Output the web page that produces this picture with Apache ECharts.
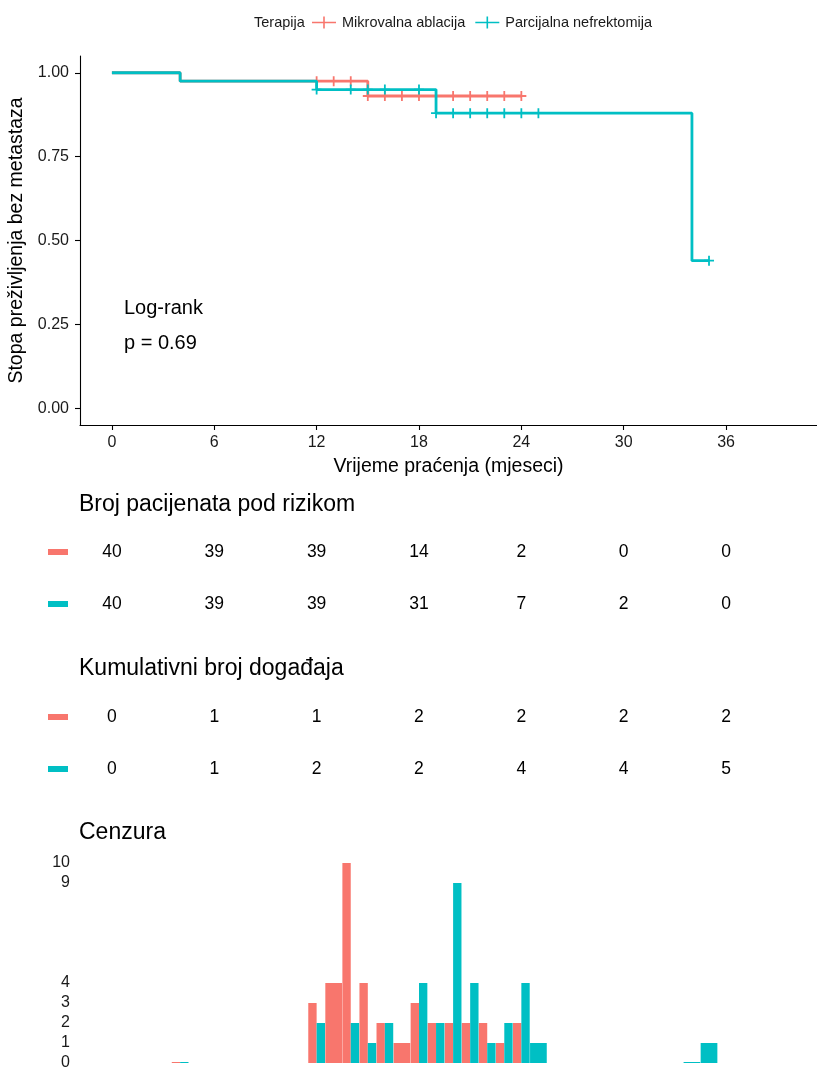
<!DOCTYPE html>
<html><head><meta charset="utf-8">
<script src="https://cdn.jsdelivr.net/npm/echarts@6/dist/echarts.min.js"></script>
<style>html,body{margin:0;padding:0;background:#fff}#c{width:817px;height:1070px}</style>
</head><body><div id="c"></div>
<script>
// ---- data ----
const groups = ['Mikrovalna ablacija', 'Parcijalna nefrektomija'];
const colors = ['#F8766D', '#00BFC4'];
// Kaplan-Meier step curves
const redSurvTimes = [0, 4, 15, 24];
const redSurv = [1, 0.975, 0.9307, 0.9307];
const tealSurvTimes = [0, 4, 12, 19, 34, 35];
const tealSurv = [1, 0.975, 0.95, 0.8796, 0.4398, 0.4398];
// censoring counts per time
const redCensTimes = [4, 12, 13, 14, 15, 16, 17, 18, 19, 20, 21, 22, 23, 24];
const redCensCounts = [0, 3, 4, 10, 4, 2, 1, 3, 2, 2, 2, 2, 1, 2];
const tealCensTimes = [4, 12, 14, 15, 16, 18, 19, 20, 21, 22, 23, 24, 25, 34, 35];
const tealCensCounts = [0, 2, 2, 1, 2, 4, 2, 9, 4, 1, 2, 4, 1, 0, 1];
// risk table
const tableTimes = [0, 6, 12, 18, 24, 30, 36];
const redAtRisk = [40, 39, 39, 14, 2, 0, 0];
const tealAtRisk = [40, 39, 39, 31, 7, 2, 0];
const redCumEvents = [0, 1, 1, 2, 2, 2, 2];
const tealCumEvents = [0, 1, 2, 2, 4, 4, 5];
// tick labels
const xTicks = [0, 6, 12, 18, 24, 30, 36];
const yTicks = [0, 0.25, 0.5, 0.75, 1];
const censTicks = [0, 1, 2, 3, 4, 9, 10];

// ---- helpers ----
const FONT = "'Liberation Sans', Arial, sans-serif";
const XMIN = -1.87, XMAX = 41.33;
function survAt(times, surv, t) {
  let v = surv[0];
  for (let i = 0; i < times.length; i++) if (times[i] <= t) v = surv[i];
  return v;
}
function censorMarks(ct, cc, st, sv) {
  const out = [];
  ct.forEach((t, i) => { if (cc[i] > 0) out.push([t, survAt(st, sv, t)]); });
  return out;
}
const plus = 'path://M0,4.1 L10,4.1 L10,5.9 L0,5.9 Z M4.1,0 L5.9,0 L5.9,10 L4.1,10 Z';
const legendIcon = 'path://M0,5.2 L24,5.2 L24,6.8 L0,6.8 Z M11.2,0 L12.8,0 L12.8,12 L11.2,12 Z';

const censData = [];
redCensTimes.forEach((t, i) => censData.push([t, redCensCounts[i], 0, tealCensTimes.indexOf(t) >= 0 ? 1 : 0]));
tealCensTimes.forEach((t, i) => censData.push([t, tealCensCounts[i], 1, redCensTimes.indexOf(t) >= 0 ? 1 : 0]));

function tableData(vals, row) { return tableTimes.map((t, i) => [t, row, vals[i]]); }

function xAxisCommon(gi, show) {
  return {
    gridIndex: gi, type: 'value', min: XMIN, max: XMAX,
    axisLine: { show: show, onZero: false, lineStyle: { color: '#000', width: 1.1 } },
    axisTick: { show: show, length: 5, customValues: xTicks, lineStyle: { color: '#000', width: 1.1 } },
    axisLabel: { show: show, customValues: xTicks, color: '#1a1a1a', fontSize: 16, fontFamily: FONT, margin: 10 },
    splitLine: { show: false }
  };
}
const tableYAxis = (gi) => ({
  gridIndex: gi, type: 'category', data: groups, inverse: true,
  axisLine: { show: false }, axisTick: { show: false },
  axisLabel: {
    margin: 12,
    formatter: (v, i) => i === 0 ? '{a|}' : '{b|}',
    rich: {
      a: { backgroundColor: colors[0], width: 20, height: 6 },
      b: { backgroundColor: colors[1], width: 20, height: 6 }
    }
  }
});
const tableLabel = { show: true, position: 'inside', formatter: p => String(p.value[2]), color: '#000', fontSize: 17.5, fontFamily: FONT };
const gridBase = { outerBoundsMode: 'none', containLabel: false };
const sectionTitle = { fontSize: 23, fontWeight: 'normal', color: '#000', fontFamily: FONT };

const chart = echarts.init(document.getElementById('c'), null, { renderer: 'canvas' });
chart.setOption({
  animation: false,
  textStyle: { fontFamily: FONT },
  title: [
    { text: 'Broj pacijenata pod rizikom', left: 74, top: 488, textStyle: sectionTitle },
    { text: 'Kumulativni broj događaja', left: 74, top: 652, textStyle: sectionTitle },
    { text: 'Cenzura', left: 74, top: 816, textStyle: sectionTitle },
    { text: 'Terapija', left: 249, top: 10, textStyle: { fontSize: 14.5, fontWeight: 'normal', color: '#1a1a1a', fontFamily: FONT } }
  ],
  legend: {
    left: 307, top: 10, itemWidth: 24, itemHeight: 12, itemGap: 10,
    data: groups.map((g, i) => ({ name: g, icon: legendIcon, itemStyle: { color: colors[i] } })),
    textStyle: { fontSize: 14.5, color: '#1a1a1a', fontFamily: FONT, padding: [0, 0, 0, 1] },
    selectedMode: false
  },
  graphic: [
    { type: 'text', left: 124, top: 298, style: { text: 'Log-rank', fontSize: 20, fill: '#000', fontFamily: FONT } },
    { type: 'text', left: 124, top: 333, style: { text: 'p = 0.69', fontSize: 20, fill: '#000', fontFamily: FONT } }
  ],
  grid: [
    Object.assign({ left: 80, top: 56, width: 737, height: 369 }, gridBase),
    Object.assign({ left: 80, top: 526, width: 737, height: 104 }, gridBase),
    Object.assign({ left: 80, top: 691, width: 737, height: 104 }, gridBase),
    Object.assign({ left: 80, top: 853, width: 737, height: 220 }, gridBase)
  ],
  xAxis: [
    Object.assign(xAxisCommon(0, true), {
      name: 'Vrijeme praćenja (mjeseci)', nameLocation: 'middle', nameGap: 32,
      nameTextStyle: { fontSize: 19.5, color: '#000', fontFamily: FONT }
    }),
    xAxisCommon(1, false), xAxisCommon(2, false), xAxisCommon(3, false)
  ],
  yAxis: [
    {
      gridIndex: 0, type: 'value', min: -0.05, max: 1.05,
      name: 'Stopa preživljenja bez metastaza', nameLocation: 'middle', nameGap: 47,
      nameTextStyle: { fontSize: 19.5, color: '#000', fontFamily: FONT },
      axisLine: { show: true, onZero: false, lineStyle: { color: '#000', width: 1.1 } },
      axisTick: { show: true, length: 5, customValues: yTicks, lineStyle: { color: '#000', width: 1.1 } },
      axisLabel: { customValues: yTicks, formatter: v => v.toFixed(2), color: '#1a1a1a', fontSize: 16, fontFamily: FONT, margin: 11 },
      splitLine: { show: false }
    },
    tableYAxis(1), tableYAxis(2),
    {
      gridIndex: 3, type: 'value', min: -0.5, max: 10.5,
      axisLine: { show: false }, axisTick: { show: false }, splitLine: { show: false },
      axisLabel: { customValues: censTicks, color: '#1a1a1a', fontSize: 16, fontFamily: FONT, margin: 10 }
    }
  ],
  series: [
    { name: groups[0], type: 'line', xAxisIndex: 0, yAxisIndex: 0, step: 'end', symbol: 'none',
      data: redSurvTimes.map((t, i) => [t, redSurv[i]]), lineStyle: { color: colors[0], width: 2.8 }, itemStyle: { color: colors[0] }, z: 2 },
    { name: groups[0], type: 'scatter', xAxisIndex: 0, yAxisIndex: 0, symbol: plus, symbolSize: 10,
      data: censorMarks(redCensTimes, redCensCounts, redSurvTimes, redSurv), itemStyle: { color: colors[0], opacity: 1 }, z: 3 },
    { name: groups[1], type: 'line', xAxisIndex: 0, yAxisIndex: 0, step: 'end', symbol: 'none',
      data: tealSurvTimes.map((t, i) => [t, tealSurv[i]]), lineStyle: { color: colors[1], width: 2.8 }, itemStyle: { color: colors[1] }, z: 4 },
    { name: groups[1], type: 'scatter', xAxisIndex: 0, yAxisIndex: 0, symbol: plus, symbolSize: 10,
      data: censorMarks(tealCensTimes, tealCensCounts, tealSurvTimes, tealSurv), itemStyle: { color: colors[1], opacity: 1 }, z: 5 },

    { type: 'scatter', xAxisIndex: 1, yAxisIndex: 1, symbolSize: 0, itemStyle: { opacity: 1 }, data: tableData(redAtRisk, 0), label: tableLabel },
    { type: 'scatter', xAxisIndex: 1, yAxisIndex: 1, symbolSize: 0, itemStyle: { opacity: 1 }, data: tableData(tealAtRisk, 1), label: tableLabel },
    { type: 'scatter', xAxisIndex: 2, yAxisIndex: 2, symbolSize: 0, itemStyle: { opacity: 1 }, data: tableData(redCumEvents, 0), label: tableLabel },
    { type: 'scatter', xAxisIndex: 2, yAxisIndex: 2, symbolSize: 0, itemStyle: { opacity: 1 }, data: tableData(tealCumEvents, 1), label: tableLabel },

    { type: 'custom', xAxisIndex: 3, yAxisIndex: 3, data: censData,
      encode: { x: 0, y: 1 },
      renderItem: function (params, api) {
        const t = api.value(0), n = api.value(1), g = api.value(2), shared = api.value(3);
        const half = 0.49;
        let x0 = t - half, x1 = t + half;
        if (shared) { if (g === 0) x1 = t; else x0 = t; }
        const p0 = api.coord([x0, n]);
        const p1 = api.coord([x1, 0]);
        const h = Math.max(p1[1] - p0[1], 1);
        return { type: 'rect', shape: { x: p0[0], y: p1[1] - h, width: p1[0] - p0[0], height: h },
          style: { fill: colors[g] } };
      }
    }
  ]
});
</script></body></html>
